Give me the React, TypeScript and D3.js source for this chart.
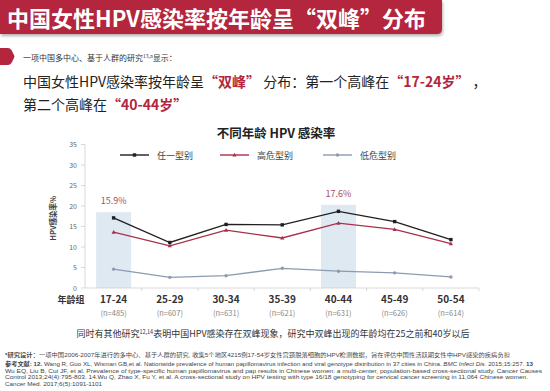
import React from 'react';
import { line, scaleBand, scaleLinear } from 'd3';

const ageGroups = ['17-24', '25-29', '30-34', '35-39', '40-44', '45-49', '50-54'];
const sampleSizes = ['(n=485)', '(n=607)', '(n=631)', '(n=621)', '(n=631)', '(n=626)', '(n=614)'];
const anyType = [17.1, 11.1, 15.5, 15.4, 18.7, 16.2, 11.8];
const highRisk = [13.6, 10.3, 14.1, 12.2, 15.8, 14.3, 10.8];
const lowRisk = [4.6, 2.6, 3.0, 4.8, 4.1, 3.7, 2.7];
const seriesNames = ['任一型别', '高危型别', '低危型别'];
const yTicks = [0, 5, 10, 15, 20, 25, 30, 35];
const peakGroups = ['17-24', '40-44'];
const peakLabels = ['15.9%', '17.6%'];
const peakTops = [18.5, 20.3];

const references = [
  'Wu EQ, Liu B, Cui JF, et al. Prevalence of type-specific human papillomavirus and pap results in Chinese women: a multi-center, population-based cross-sectional study. Cancer Causes',
  'Control 2013;24(4):795-803. 14.Wu Q, Zhao X, Fu Y, et al. A cross-sectional study on HPV testing with type 16/18 genotyping for cervical cancer screening in 11,064 Chinese women.',
  'Cancer Med. 2017;6(5):1091-1101',
];

const RED = '#b3263d';
const FONT = '"Noto Sans CJK SC", "Noto Sans", sans-serif';

const App = () => {
  const x = scaleBand<string>().domain(ageGroups).range([85.5, 479]);
  const y = scaleLinear().domain([0, 35]).range([288, 144.5]);
  const cx = (g: string) => (x(g) ?? 0) + x.bandwidth() / 2;

  const path = line<number>()
    .x((_, i) => cx(ageGroups[i]))
    .y((d) => y(d));

  const series = [
    { name: seriesNames[0], values: anyType, color: '#1f1f1f' },
    { name: seriesNames[1], values: highRisk, color: '#a8304b' },
    { name: seriesNames[2], values: lowRisk, color: '#8c9bb0' },
  ];

  const marker = (k: number, px: number, py: number, color: string, key: string) => {
    if (k === 0) return <rect key={key} x={px - 1.7} y={py - 1.7} width={3.4} height={3.4} fill={color} />;
    if (k === 1)
      return <path key={key} d={`M${px},${py - 2.2}L${px + 2.1},${py + 1.6}L${px - 2.1},${py + 1.6}Z`} fill={color} />;
    return <circle key={key} cx={px} cy={py} r={1.7} fill={color} />;
  };

  const legendX = [120, 220, 323];

  return (
    <svg width={550} height={391} style={{ position: 'absolute', left: 0, top: 0, fontFamily: FONT }}>
      <rect width={550} height={391} fill="#fff" />
      <defs>
        <filter id="sh" x="-5%" y="-20%" width="110%" height="160%">
          <feDropShadow dx="1" dy="2" stdDeviation="1.5" floodColor="#000" floodOpacity="0.3" />
        </filter>
      </defs>
      {/* header banner */}
      <path d="M0,0H442V29Q442,34 437,34H0Z" fill={RED} filter="url(#sh)" />
      <text x={7} y={27} fill="#fff" fontSize={22} fontWeight="bold">
        中国女性HPV感染率按年龄呈“双峰”分布
      </text>

      {/* bullet */}
      <path d="M0,48H8Q10,48 11.5,50L14,55Q15,56.5 14,58L11.5,63Q10,65 8,65H0Z" fill={RED} />
      <text x={23} y={61} fontSize={8} fill="#333">
        一项中国多中心、基于人群的研究<tspan fontSize={5} dy={-3}>13,a</tspan>
        <tspan dy={3}>显示：</tspan>
      </text>
      <text x={23} y={87} fontSize={14} fill="#222">
        中国女性HPV感染率按年龄呈<tspan fill={RED} fontWeight="bold">“双峰”</tspan> 分布：第一个高峰在
        <tspan fill={RED} fontWeight="bold">“17-24岁”</tspan>  ，
      </text>
      <text x={23} y={110} fontSize={14} fill="#222">
        第二个高峰在<tspan fill={RED} fontWeight="bold">“40-44岁”</tspan>
      </text>

      {/* chart title */}
      <text x={276} y={138} textAnchor="middle" fontSize={12.5} fontWeight="bold" fill="#222">
        不同年龄 HPV 感染率
      </text>

      {/* legend */}
      {series.map((s, k) => (
        <g key={s.name}>
          <line x1={legendX[k]} x2={legendX[k] + 29} y1={155} y2={155} stroke={s.color} strokeWidth={1.4} />
          {marker(k, legendX[k] + 14.5, 155, s.color, 'lm' + k)}
          <text x={legendX[k] + 37} y={158.5} fontSize={9} fill="#444">
            {s.name}
          </text>
        </g>
      ))}

      {/* highlight bands */}
      {peakGroups.map((g, i) => (
        <g key={g}>
          <rect x={cx(g) - 17.5} y={y(peakTops[i])} width={35} height={y(0) - y(peakTops[i])} fill="#dfe9f1" />
          <text x={cx(g)} y={y(peakTops[i]) - 8} textAnchor="middle" fontSize={9} fill="#a94a63">
            {peakLabels[i]}
          </text>
        </g>
      ))}

      {/* y axis */}
      <line x1={85} x2={85} y1={y(35)} y2={y(0)} stroke="#cfcfcf" strokeWidth={0.8} />
      {yTicks.map((t) => (
        <g key={t}>
          <line x1={81} x2={85} y1={y(t)} y2={y(t)} stroke="#cfcfcf" strokeWidth={0.8} />
          <text x={77} y={y(t) + 2.5} textAnchor="end" fontSize={7} fill="#666">
            {t}
          </text>
        </g>
      ))}
      <text
        transform={`translate(56,${y(17.5) + 2}) rotate(-90)`}
        textAnchor="middle"
        fontSize={7.5}
        fontWeight="bold"
        fill="#444"
      >
        HPV感染率%
      </text>

      {/* x axis */}
      <line x1={85} x2={479} y1={y(0)} y2={y(0)} stroke="#cfcfcf" strokeWidth={0.8} />
      {ageGroups.map((g) => (
        <line key={g} x1={(x(g) ?? 0) + x.bandwidth()} x2={(x(g) ?? 0) + x.bandwidth()} y1={y(0)} y2={y(0) + 3} stroke="#cfcfcf" strokeWidth={0.8} />
      ))}
      <text x={71} y={302.5} textAnchor="middle" fontSize={9} fontWeight="bold" fill="#333">
        年龄组
      </text>
      {ageGroups.map((g, i) => (
        <g key={g}>
          <text x={cx(g)} y={302.5} textAnchor="middle" fontSize={10} fontWeight="bold" fill="#333">
            {g}
          </text>
          <text x={cx(g)} y={316} textAnchor="middle" fontSize={7.5} fill="#888">
            {sampleSizes[i]}
          </text>
        </g>
      ))}

      {/* series */}
      {series.map((s, k) => (
        <g key={s.name}>
          <path d={path(s.values) ?? ''} fill="none" stroke={s.color} strokeWidth={1.3} />
          {s.values.map((v, i) => marker(k, cx(ageGroups[i]), y(v), s.color, s.name + i))}
        </g>
      ))}

      {/* footer note */}
      <text x={273} y={337} textAnchor="middle" fontSize={9} fill="#333">
        同时有其他研究<tspan fontSize={5.5} dy={-3}>12,14</tspan>
        <tspan dy={3}>表明中国HPV感染存在双峰现象，研究中双峰出现的年龄均在25之前和40岁以后</tspan>
      </text>

      {/* references */}
      <g fontSize={5.4} fill="#444" fontFamily={'"Liberation Sans", "Noto Sans CJK SC", sans-serif'}>
        <text x={5} y={356.5} textLength={505} lengthAdjust="spacingAndGlyphs">
          <tspan fontWeight="bold">*研究设计：</tspan>一项中国2006-2007年进行的多中心、基于人群的研究, 收集5个地区4215例17-54岁女性宫颈脱落细胞的HPV检测数据，旨在评估中国性活跃期女性中HPV感染的疾病负担
        </text>
        <text x={5} y={365.5} textLength={528} lengthAdjust="spacingAndGlyphs">
          <tspan fontWeight="bold">参考文献: 12.</tspan> Wang R, Guo XL, Wisman GB,et al. Nationwide prevalence of human papillomavirus infection and viral genotype distribution in 37 cities in China.{' '}
          <tspan fontStyle="italic">BMC Infect Dis.</tspan> 2015;15:257. <tspan fontWeight="bold">13</tspan>
        </text>
        {references.map((r, i) => (
          <text
            key={i}
            x={5}
            y={372.5 + i * 6.6}
            textLength={i === 0 ? 537 : i === 1 ? 523 : 97}
            lengthAdjust="spacingAndGlyphs"
          >
            {r}
          </text>
        ))}
      </g>
    </svg>
  );
};

export default App;
